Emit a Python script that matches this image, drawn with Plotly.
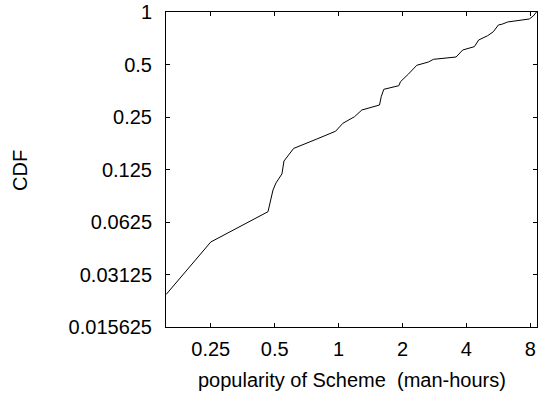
import plotly.graph_objects as go

# popularity (man-hours) and CDF values
hours = [0.154, 0.25, 0.465, 0.491, 0.507, 0.541, 0.553, 0.614, 0.785, 0.907,
         0.968, 1.047, 1.189, 1.287, 1.559, 1.588, 1.633, 1.922, 1.957, 2.134,
         2.335, 2.650, 2.798, 3.577, 3.843, 4.362, 4.570, 5.038, 5.359, 5.657,
         5.926, 6.256, 7.101, 7.914, 8.264, 8.56]
cdf = [0.0240, 0.0480, 0.0716, 0.0954, 0.1046, 0.1179, 0.1398, 0.1651, 0.1864, 0.2000,
       0.2072, 0.2300, 0.2510, 0.2742, 0.2929, 0.3269, 0.3604, 0.3779, 0.3985, 0.4408,
       0.4948, 0.5168, 0.5354, 0.5520, 0.6056, 0.6327, 0.6909, 0.7313, 0.7707, 0.8422,
       0.8535, 0.8765, 0.8914, 0.9118, 0.9485, 1.0]

x_ticks = [0.25, 0.5, 1, 2, 4, 8]
x_tick_text = ["0.25", "0.5", "1", "2", "4", "8"]
y_ticks = [1, 0.5, 0.25, 0.125, 0.0625, 0.03125, 0.015625]
y_tick_text = ["1", "0.5", "0.25", "0.125", "0.0625", "0.03125", "0.015625"]

x_title = "popularity of Scheme  (man-hours)"
y_title = "CDF"

FONT = "Liberation Sans, Arial, Helvetica, sans-serif"
FS = 20

fig = go.Figure()
fig.add_trace(go.Scatter(x=hours, y=cdf, mode="lines",
                         line=dict(color="black", width=1), showlegend=False))

fig.update_layout(
    width=538, height=397,
    margin=dict(l=166, r=1, t=12, b=70),
    paper_bgcolor="white", plot_bgcolor="white",
    font=dict(family=FONT, size=FS, color="black"),
    xaxis=dict(type="log", range=[-0.8130, 0.9347],
               tickvals=x_ticks, ticktext=x_tick_text,
               ticks="inside", ticklen=4, tickcolor="black", tickwidth=1,
               showline=True, linecolor="black", linewidth=1, mirror="ticks",
               showgrid=False, zeroline=False, ticklabelstandoff=4),
    yaxis=dict(type="log", range=[-1.80618, 0],
               tickvals=y_ticks, ticktext=y_tick_text,
               ticks="inside", ticklen=4, tickcolor="black", tickwidth=1,
               showline=True, linecolor="black", linewidth=1, mirror="ticks",
               showgrid=False, zeroline=False, ticklabelstandoff=9),
    annotations=[
        dict(text=x_title, xref="paper", yref="paper", x=0.5, y=-0.168,
             xanchor="center", yanchor="middle", showarrow=False,
             font=dict(family=FONT, size=FS, color="black")),
        dict(text=y_title, xref="paper", yref="paper", x=-0.393, y=0.496,
             xanchor="center", yanchor="middle", showarrow=False, textangle=-90,
             font=dict(family=FONT, size=FS, color="black")),
    ],
)

fig.write_html("out.html")
